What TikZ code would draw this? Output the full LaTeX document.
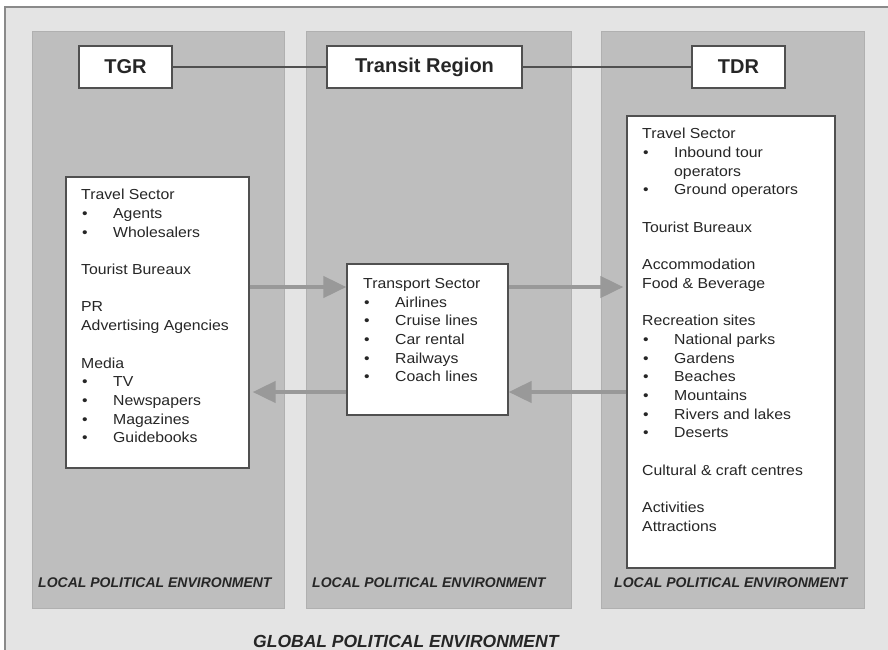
\documentclass[tikz,border=0pt]{standalone}
\usepackage{fontspec}
\setmainfont{Liberation Sans}
\newfontfamily\bodyfont[FakeStretch=1.09]{Liberation Sans}
\usetikzlibrary{arrows.meta}
\definecolor{outerbg}{HTML}{E4E4E4}
\definecolor{outerline}{HTML}{8A8A8A}
\definecolor{panelbg}{HTML}{BEBEBE}
\definecolor{panelline}{HTML}{B0B0B0}
\definecolor{boxline}{HTML}{505050}
\definecolor{arrowgray}{HTML}{999999}
\definecolor{inkgray}{HTML}{262626}
\newcommand{\bitem}[1]{\makebox[32pt][l]{\hspace*{1pt}•}#1}
\tikzset{
  panel/.style={fill=panelbg, draw=panelline, line width=0.6pt},
  headbox/.style={draw=boxline, fill=white, line width=1.3pt, minimum height=42pt,
    font=\fontsize{20}{24}\selectfont\bfseries, text=inkgray, inner sep=0pt},
  listbox/.style={draw=boxline, fill=white, line width=1.3pt, inner sep=0pt},
  listtext/.style={anchor=north west, align=left, inner sep=0pt, text=inkgray,
    font=\bodyfont\fontsize{14.5}{18.7}\selectfont},
  envlabel/.style={anchor=base west, inner sep=0pt, text=inkgray,
    font=\fontsize{14}{16}\selectfont\bfseries\itshape},
  hline/.style={draw=boxline, line width=1.3pt},
  bigarrow/.style={draw=arrowgray, line width=4.3pt,
    -{Triangle[length=23pt,width=21pt]}},
}
\begin{document}
\begin{tikzpicture}[x=1pt,y=-1pt]
\useasboundingbox (0,0) rectangle (888,649);
% outer global environment
\path[fill=outerbg] (5,7) rectangle (895,660);
\draw[outerline, line width=1.4pt] (5,660) -- (5,7) -- (895,7);
% panels
\path[panel] (32,31) rectangle (284,608);
\path[panel] (306,31) rectangle (571,608);
\path[panel] (601,31) rectangle (864,608);
% header boxes
\node[headbox, minimum width=93pt] (tgr) at (125.5,67) {TGR};
\node[headbox, minimum width=195pt] (transit) at (424.5,67) {Transit Region};
\node[headbox, minimum width=93pt] (tdr) at (738.5,67) {TDR};
\draw[hline] (tgr) -- (transit);
\draw[hline] (transit) -- (tdr);
% list boxes
\node[listbox, minimum width=183pt, minimum height=291pt] (lbox) at (157.5,322.5) {};
\node[listbox, minimum width=161pt, minimum height=151pt] (mbox) at (427.5,339.5) {};
\node[listbox, minimum width=208pt, minimum height=452pt] (rbox) at (731,342) {};
\node[listtext] (ltext) at (81,189) {Travel Sector\\
\bitem{Agents}\\
\bitem{Wholesalers}\\[18.7pt]
Tourist Bureaux\\[18.7pt]
PR\\
Advertising Agencies\\[18.7pt]
Media\\
\bitem{TV}\\
\bitem{Newspapers}\\
\bitem{Magazines}\\
\bitem{Guidebooks}};
\node[listtext] (mtext) at (363,278) {Transport Sector\\
\bitem{Airlines}\\
\bitem{Cruise lines}\\
\bitem{Car rental}\\
\bitem{Railways}\\
\bitem{Coach lines}};
\node[listtext] (rtext) at (642,128) {Travel Sector\\
\bitem{Inbound tour}\\
\hspace*{32pt}operators\\
\bitem{Ground operators}\\[18.7pt]
Tourist Bureaux\\[18.7pt]
Accommodation\\
Food \& Beverage\\[18.7pt]
Recreation sites\\
\bitem{National parks}\\
\bitem{Gardens}\\
\bitem{Beaches}\\
\bitem{Mountains}\\
\bitem{Rivers and lakes}\\
\bitem{Deserts}\\[18.7pt]
Cultural \& craft centres\\[18.7pt]
Activities\\
Attractions};
% flow arrows
\coordinate (yout) at (0,287);
\coordinate (yback) at (0,392);
\draw[bigarrow] (lbox.east |- yout) -- (mbox.west |- yout);
\draw[bigarrow, shorten >=3pt] (mbox.east |- yout) -- (rbox.west |- yout);
\draw[bigarrow] (rbox.west |- yback) -- (mbox.east |- yback);
\draw[bigarrow, shorten >=3pt] (mbox.west |- yback) -- (lbox.east |- yback);
% environment labels
\node[envlabel] (loc1) at (38,587) {LOCAL POLITICAL ENVIRONMENT};
\node[envlabel] (loc2) at (312,587) {LOCAL POLITICAL ENVIRONMENT};
\node[envlabel] (loc3) at (614,587) {LOCAL POLITICAL ENVIRONMENT};
\node[envlabel, font=\fontsize{17.5}{20}\selectfont\bfseries\itshape] (glob) at (253,647) {GLOBAL POLITICAL ENVIRONMENT};
\end{tikzpicture}
\end{document}
